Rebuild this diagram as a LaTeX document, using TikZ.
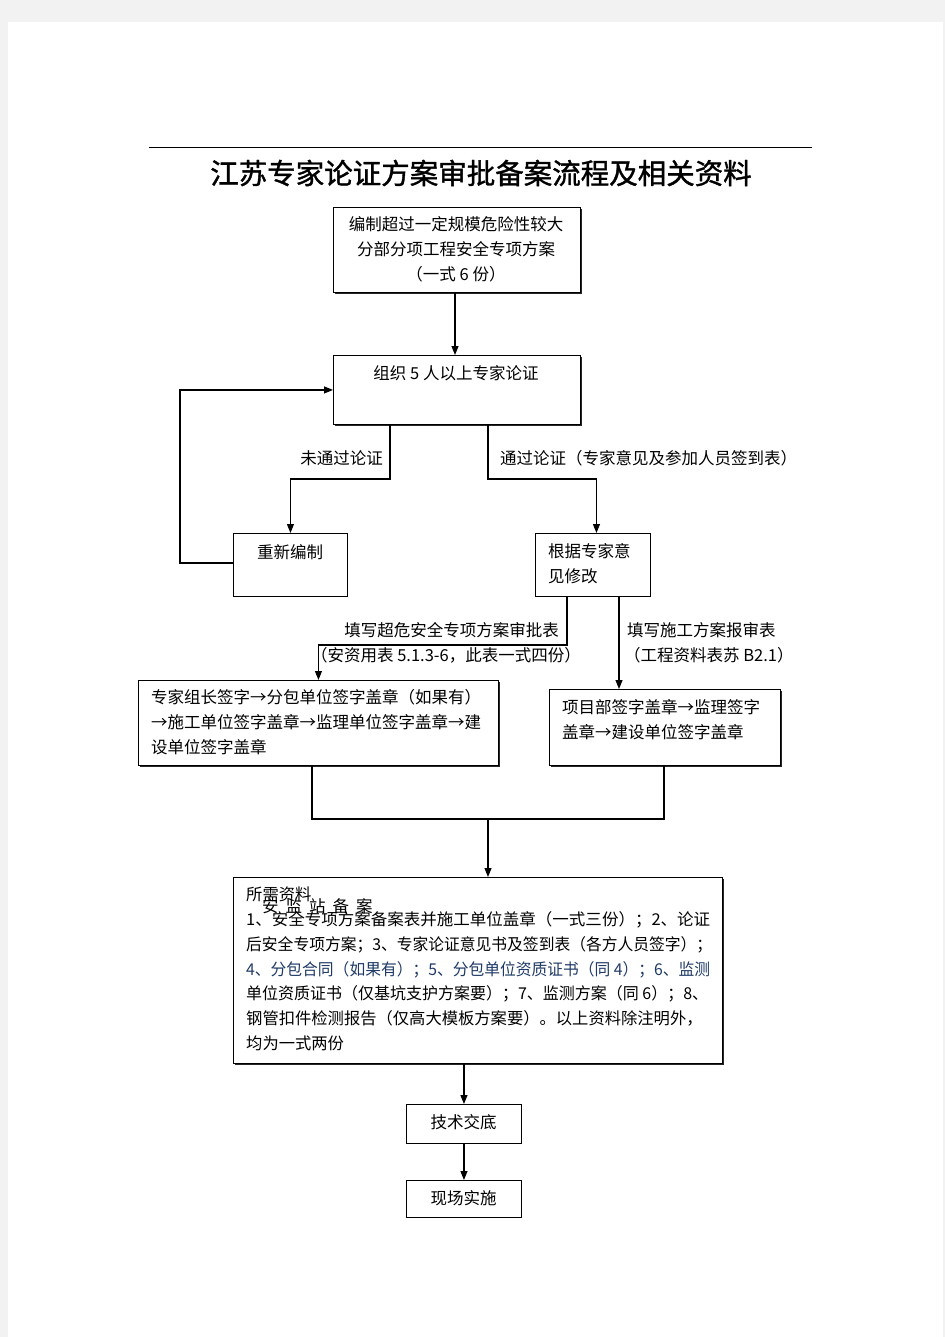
\documentclass[tikz,border=0pt]{standalone}
\usepackage{fontspec}
\setmainfont{Noto Sans CJK SC}
\newfontfamily\titlefont[FakeBold=1.3]{Noto Sans CJK SC}
\usetikzlibrary{arrows.meta,shadows}
\definecolor{pagegray}{HTML}{F2F2F2}
\definecolor{navytext}{HTML}{1F3A66}
\newcommand{\bodyfs}{\fontsize{16.5}{25}\selectfont}
\newcommand{\bigfs}{\fontsize{16.3}{24.7}\selectfont}
\newsavebox{\fitlinebox}
\newcommand{\fitline}[2]{\sbox{\fitlinebox}{#2}\scalebox{\fpeval{#1/(\the\wd\fitlinebox)}}[1]{\usebox{\fitlinebox}}}
\begin{document}
\begin{tikzpicture}[x=1pt,y=-1pt,
  boxbase/.style={draw, line width=0.9pt, fill=white, anchor=north west, inner sep=0pt},
  sbox/.style={boxbase, drop shadow={shadow xshift=1.6pt, shadow yshift=-1.6pt, fill=black, opacity=0.85}},
  txt/.style={font=\bodyfs, inner sep=0pt},
  ln/.style={line width=1.1pt},
  arr/.style={line width=1.1pt, -{Triangle[length=9pt,width=7pt]}}]
\useasboundingbox (0,0) rectangle (945,1337);
\fill[pagegray] (0,0) rectangle (945,1337);
\fill[white] (8,22) rectangle (943,1337);

% header rule and title
\coordinate (ruleL) at (149,147);
\coordinate (ruleR) at (812,147);
\draw[line width=0.9pt] (ruleL) -- (ruleR);
\node[font=\titlefont\fontsize{28.5}{30}\selectfont, inner sep=0pt] (title) at (481,173) {江苏专家论证方案审批备案流程及相关资料};

% boxes
\node[sbox, minimum width=247pt, minimum height=85pt] (b1) at (333,207) {};
\node[txt, align=center, anchor=north] (b1t) at (456,216) {编制超过一定规模危险性较大\\分部分项工程安全专项方案\\（一式 6 份）};

\node[sbox, minimum width=247pt, minimum height=69pt] (b2) at (333,355) {};
\node[txt] (b2t) at (456,373) {组织 5 人以上专家论证};

\node[boxbase, minimum width=114pt, minimum height=63pt] (redo) at (233,533) {};
\node[txt] (redot) at (290,552) {重新编制};

\node[boxbase, minimum width=115pt, minimum height=63pt] (mod) at (535,533) {};
\node[txt, align=left, anchor=north west] (modt) at (548,543) {根据专家意\\见修改};

\node[sbox, minimum width=360pt, minimum height=85pt] (bl) at (138,680) {};
\node[txt, align=left, anchor=north west] (blt) at (151,689) {专家组长签字→分包单位签字盖章（如果有）\\→施工单位签字盖章→监理单位签字盖章→建\\设单位签字盖章};

\node[sbox, minimum width=231pt, minimum height=76pt] (br) at (549,689) {};
\node[txt, align=left, anchor=north west] (brt) at (562,699) {项目部签字盖章→监理签字\\盖章→建设单位签字盖章};

\node[sbox, minimum width=489pt, minimum height=186pt] (big) at (233,877) {};
\node[font=\bigfs, inner sep=0pt, align=left, anchor=north west] (bigt) at (246,887) {所需资料\\
\fitline{464}{1、安全专项方案备案表并施工单位盖章（一式三份）；2、论证}\\
\fitline{466}{后安全专项方案；3、专家论证意见书及签到表（各方人员签字）；}\\
\fitline{464}{\color{navytext}4、分包合同（如果有）；5、分包单位资质证书（同 4）；6、监测}\\
\fitline{462}{单位资质证书（仅基坑支护方案要）；7、监测方案（同 6）；8、}\\
钢管扣件检测报告（仅高大模板方案要）。以上资料除注明外，\\
均为一式两份};
\node[txt, anchor=west] (stamp) at (262,906) {安\hspace{7pt}监\hspace{7pt}站\hspace{7pt}备\hspace{7pt}案};

\node[boxbase, minimum width=115pt, minimum height=39pt] (tech) at (406,1104) {};
\node[txt] (techt) at (463.5,1122) {技术交底};

\node[boxbase, minimum width=115pt, minimum height=37pt] (site) at (406,1180) {};
\node[txt] (sitet) at (463.5,1198) {现场实施};

% connectors
\draw[arr] (b1.south -| 455,0) -- (b2.north -| 455,0);

\coordinate (fail) at (390,479);
\coordinate (pass) at (488,479);
\draw[arr] (b2.south -| fail) -- (fail) -| (redo.north);
\draw[arr] (b2.south -| pass) -- (pass) -| ([xshift=3.5pt]mod.north);
\node[txt, anchor=east] (failt) at (383,458) {未通过论证};
\node[txt, anchor=west] (passt) at (500,458) {通过论证（专家意见及参加人员签到表）};

\coordinate (loop) at (180,563);
\draw[arr] (redo.west |- loop) -- (loop) |- (b2.west);

\coordinate (formL) at (567,645);
\coordinate (formR) at (619,645);
\draw[arr] (mod.south -| formL) -- (formL) -| (bl.north);
\draw[arr] (mod.south -| formR) -- (formR |- br.north);
\node[txt, anchor=east] (fl1) at (559,630) {填写超危安全专项方案审批表};
\node[txt, anchor=east] (fl2) at (581,655) {（安资用表 5.1.3-6，此表一式四份）};
\node[txt, anchor=west] (fr1) at (627,630) {填写施工方案报审表};
\node[txt, anchor=west] (fr2) at (624,655) {（工程资料表苏 B2.1）};

\coordinate (joinL) at (312,819);
\coordinate (joinR) at (664,819);
\coordinate (joinM) at (488,819);
\draw[ln] (bl.south -| joinL) -- (joinL) -- (joinR) -- (br.south -| joinR);
\draw[arr] (joinM) -- (big.north -| joinM);

\draw[arr] (tech.north |- big.south) -- (tech.north);
\draw[arr] (tech.south) -- (site.north);
\end{tikzpicture}
\end{document}
